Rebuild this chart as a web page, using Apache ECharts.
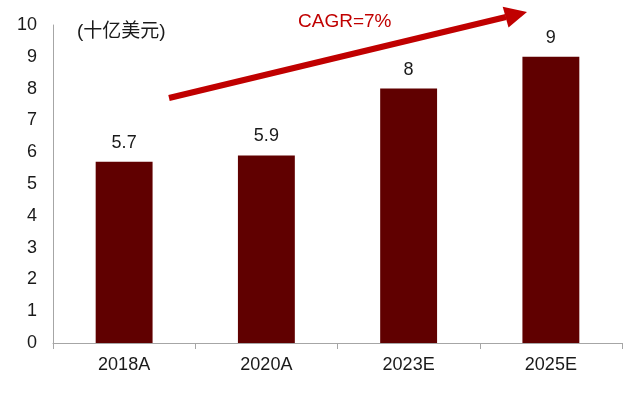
<!DOCTYPE html>
<html>
<head>
<meta charset="utf-8">
<script src="https://cdn.jsdelivr.net/npm/echarts@6/dist/echarts.min.js"></script>
<style>html,body{margin:0;padding:0;background:#fff}#c{width:640px;height:395px}</style>
</head>
<body>
<div id="c"></div>
<script>
const categories = ['2018A', '2020A', '2023E', '2025E'];
const values = [5.7, 5.9, 8, 9];
const yTicks = [0, 1, 2, 3, 4, 5, 6, 7, 8, 9, 10];
const unitLabel = '(十亿美元)';
const cagrLabel = 'CAGR=7%';

const chart = echarts.init(document.getElementById('c'), null, {renderer: 'canvas'});
const font = '"Liberation Sans", Arial, sans-serif';
chart.setOption({
  animation: false,
  grid: {left: 53, right: 18, top: 25, bottom: 52},
  xAxis: {
    type: 'category',
    data: categories,
    axisLine: {lineStyle: {color: '#a6a6a6', width: 1}},
    axisTick: {show: true, length: 6, lineStyle: {color: '#a6a6a6'}},
    axisLabel: {color: '#1a1a1a', fontSize: 18, fontFamily: font, margin: 13}
  },
  yAxis: {
    type: 'value',
    min: yTicks[0],
    max: yTicks[yTicks.length - 1],
    interval: 1,
    axisLine: {show: true, lineStyle: {color: '#a6a6a6', width: 1}},
    axisTick: {show: false},
    splitLine: {show: false},
    axisLabel: {color: '#1a1a1a', fontSize: 18, fontFamily: font, margin: 16}
  },
  series: [{
    type: 'bar',
    data: values,
    barWidth: '40%',
    itemStyle: {color: '#600000'},
    label: {show: true, position: 'top', distance: 10, color: '#1a1a1a', fontSize: 18, fontFamily: font}
  }],
  graphic: [
    {type: 'text', left: 77, top: 22, style: {text: unitLabel, fill: '#1a1a1a', font: '19px "Liberation Sans", "Noto Sans CJK SC", sans-serif'}},
    {type: 'text', left: 298, top: 12, style: {text: cagrLabel, fill: '#c00000', font: '19px "Liberation Sans", Arial, sans-serif'}},
    {type: 'line', shape: {x1: 169, y1: 98, x2: 506, y2: 17}, style: {stroke: '#c00000', lineWidth: 6}},
    {type: 'polygon', shape: {points: [[527, 12], [508.5, 27.5], [502.7, 6.8]]}, style: {fill: '#c00000'}}
  ]
});
</script>
</body>
</html>
